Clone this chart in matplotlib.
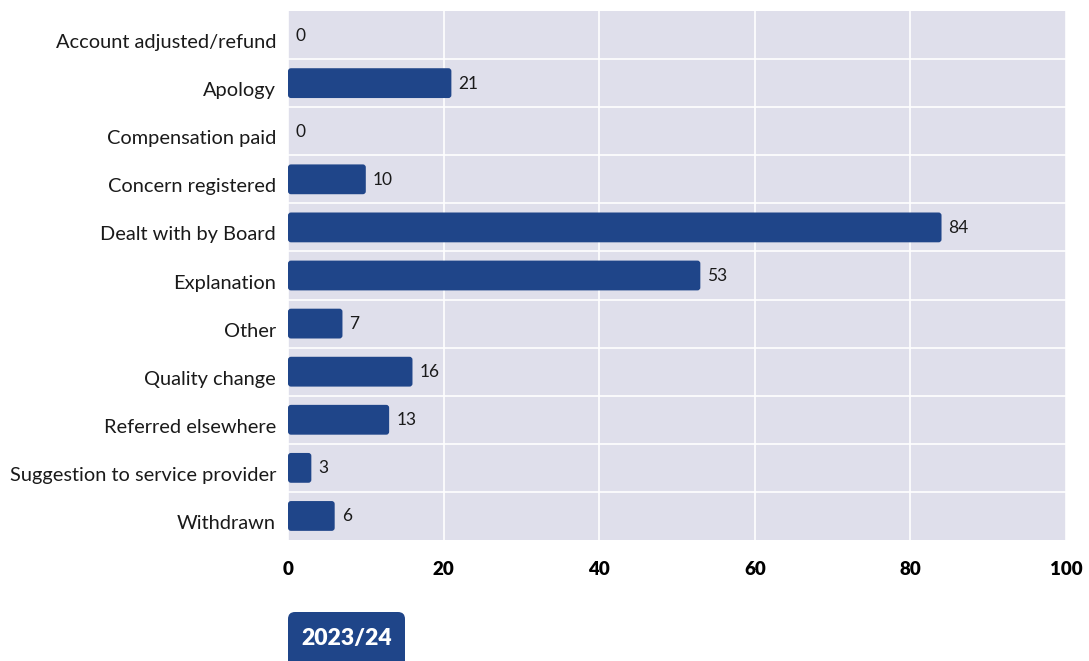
import matplotlib
matplotlib.use("Agg")
import matplotlib.pyplot as plt
import matplotlib.transforms as mtransforms
from matplotlib.patches import FancyBboxPatch
import numpy as np

categories = ["Account adjusted/refund", "Apology", "Compensation paid",
              "Concern registered", "Dealt with by Board", "Explanation",
              "Other", "Quality change", "Referred elsewhere",
              "Suggestion to service provider", "Withdrawn"]
values = [0, 21, 0, 10, 84, 53, 7, 16, 13, 3, 6]
xticks = [0, 20, 40, 60, 80, 100]
period_label = "2023/24"

BAR = "#1F4589"
BG = "#DFDFEB"
plt.rcParams['font.family'] = ['Lato', 'DejaVu Sans']

fig = plt.figure(figsize=(10.89, 6.61), dpi=100)
ax = fig.add_axes([288/1089, 1-540/661, (1066-288)/1089, 529/661])
ax.set_facecolor(BG)

y = np.arange(len(categories))
bars = ax.barh(y, values, height=0.62, color=BAR)
ax.set_xlim(0, 100)
ax.set_ylim(len(categories)-0.5, -0.5)

# replace bars with rounded versions
for b in bars:
    x0, y0 = b.get_x(), b.get_y()
    w, h = b.get_width(), b.get_height()
    b.set_visible(False)
    if w > 0:
        p = FancyBboxPatch((x0, y0), w, h,
                           boxstyle="round,pad=0,rounding_size=0.38",
                           mutation_aspect=0.16, fc=BAR, ec="none", zorder=3)
        ax.add_patch(p)

for yi, v in zip(y, values):
    ax.text(v + 0.9, yi + 0.01, str(v), va="center", ha="left", fontsize=12.5,
            color="#1a1a1a", zorder=4)

ax.set_xticks(xticks)
ax.set_xticklabels([str(t) for t in xticks], fontsize=13.5, fontweight="heavy")
ax.set_yticks(y)
ax.set_yticklabels([])
# category labels, placed slightly below row centre as in the reference
lab_tr = ax.get_yaxis_transform() + mtransforms.ScaledTranslation(-12/100, -6/100, fig.dpi_scale_trans)
for yi, c in zip(y, categories):
    ax.text(0, yi, c, transform=lab_tr, ha="right", va="center_baseline",
            fontsize=14.4, color="#1a1a1a")
ax.tick_params(axis="both", length=0)
ax.tick_params(axis="x", pad=15)
ax.set_yticks(np.arange(0.5, len(categories)-1, 1), minor=True)
ax.tick_params(axis="y", which="minor", length=0)
ax.grid(axis="x", which="major", color="white", linewidth=1.2, zorder=1)
ax.grid(axis="y", which="minor", color="white", linewidth=1.2, zorder=1)
ax.grid(axis="y", which="major", visible=False)
ax.set_axisbelow(True)
for s in ax.spines.values():
    s.set_visible(False)

W, H = 1089, 661
box = FancyBboxPatch((288/W, -10/H), 117/W, (661-612+10)/H,
                     boxstyle="round,pad=0,rounding_size=%f" % (7/W),
                     mutation_aspect=W/H, fc=BAR, ec="none",
                     transform=fig.transFigure)
fig.add_artist(box)
fig.text(347/W, 1-639/H, period_label, ha="center", va="center",
         fontsize=16.5, fontweight="heavy", color="white")

fig.savefig("out.png", dpi=100)
